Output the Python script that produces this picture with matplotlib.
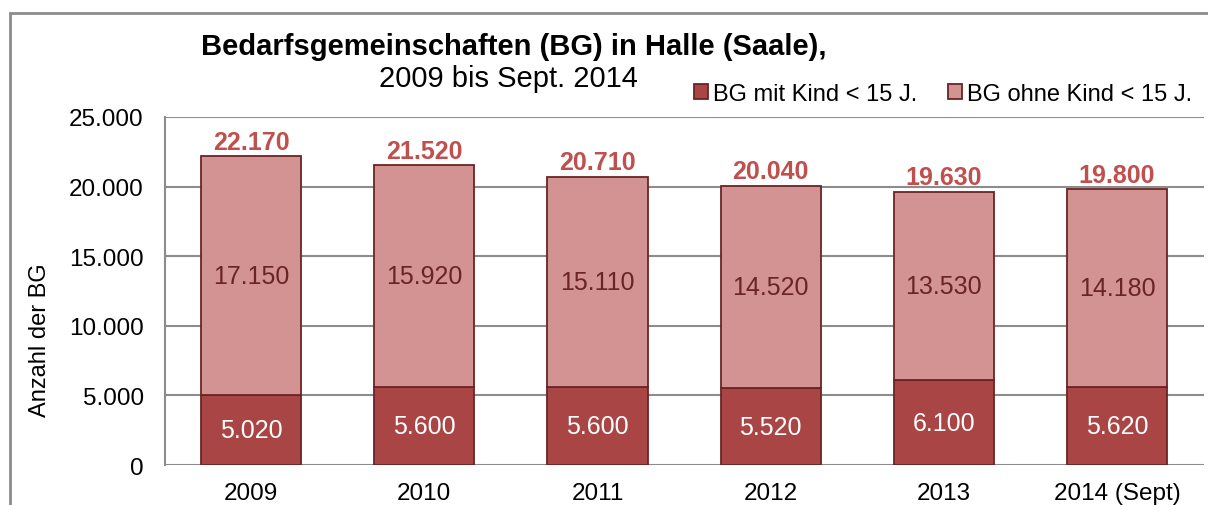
import numpy as np
import matplotlib.pyplot as plt
from matplotlib.patches import Rectangle

plt.rcParams['font.family'] = ['Liberation Sans', 'DejaVu Sans']

# Data
years = ['2009', '2010', '2011', '2012', '2013', '2014 (Sept)']
mit_kind = [5020, 5600, 5600, 5520, 6100, 5620]
ohne_kind = [17150, 15920, 15110, 14520, 13530, 14180]
totals = [22170, 21520, 20710, 20040, 19630, 19800]

def de_fmt(v):
    return f'{v:,.0f}'.replace(',', '.')

dark = '#A94545'
light = '#D39393'
edge = '#6A2424'

fig = plt.figure(figsize=(12.08, 5.06), dpi=100)
ax = fig.add_axes([0.1362, 0.079, 0.8602, 0.688])

x = np.arange(len(years))
w = 0.578
ax.bar(x, mit_kind, w, color=dark, edgecolor=edge, linewidth=1.3,
       label='BG mit Kind < 15 J.', zorder=3)
ax.bar(x, ohne_kind, w, bottom=mit_kind, color=light, edgecolor=edge,
       linewidth=1.3, label='BG ohne Kind < 15 J.', zorder=3)

for i in range(len(years)):
    ax.text(x[i], mit_kind[i] / 2, de_fmt(mit_kind[i]), ha='center', va='center',
            color='white', fontsize=18, zorder=4)
    ax.text(x[i], mit_kind[i] + ohne_kind[i] / 2, de_fmt(ohne_kind[i]), ha='center',
            va='center', color='#6A2424', fontsize=18, zorder=4)
    ax.annotate(de_fmt(totals[i]), (x[i], totals[i]), xytext=(0, 2),
                textcoords='offset points', ha='center', va='bottom',
                color='#C0504D', fontsize=18, fontweight='bold', zorder=4)

ax.set_xlim(-0.5, len(years) - 0.5)
ax.set_ylim(0, 25000)
ax.set_yticks(np.arange(0, 25001, 5000))
ax.set_yticklabels([de_fmt(v) for v in np.arange(0, 25001, 5000)], fontsize=17.5)
ax.set_xticks(x)
ax.set_xticklabels(years, fontsize=17.5)
ax.tick_params(length=0, pad=12)
ax.tick_params(axis='y', pad=15)
ax.grid(axis='y', color='#8C8C8C', linewidth=1.5, zorder=0)
for s in ['right', 'top', 'bottom']:
    ax.spines[s].set_visible(False)
ax.spines['left'].set_color('#8C8C8C')
ax.spines['left'].set_linewidth(1.5)

fig.text(0.033, 0.328, 'Anzahl der BG', rotation=90, ha='center', va='center',
         fontsize=17)
fig.text(0.425, 0.907, 'Bedarfsgemeinschaften (BG) in Halle (Saale),', ha='center',
         va='center', fontsize=21, fontweight='bold')
fig.text(0.4205, 0.843, '2009 bis Sept. 2014', ha='center', va='center',
         fontsize=21)

ax.legend(loc='lower right', bbox_to_anchor=(1.0, 1.0), ncol=2, frameon=False,
          fontsize=17, handlelength=0.6, handleheight=0.6, handletextpad=0.2,
          columnspacing=1.3, borderaxespad=0.1)

fig.patches.append(Rectangle((10 / 1208, -0.1), 1.2, 1.1 - 13.5 / 506,
                             transform=fig.transFigure, fill=False,
                             edgecolor='#8C8C8C', linewidth=2))

fig.savefig('out.png', dpi=100)
